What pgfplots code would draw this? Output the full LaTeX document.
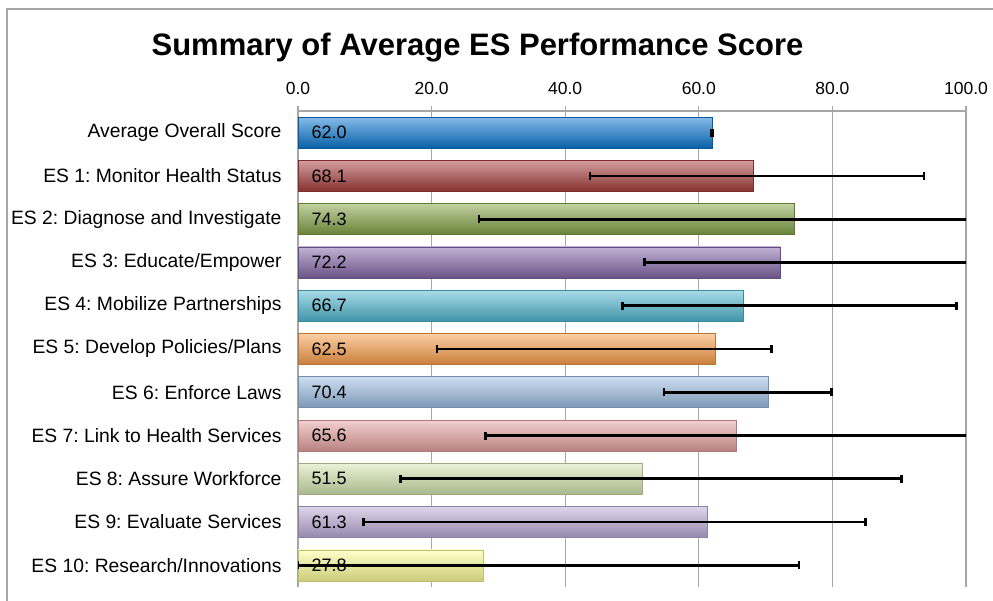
\documentclass[border=0pt]{standalone}
\usepackage{fontspec}
\setmainfont{Liberation Sans}
\usepackage{pgfplots}
\pgfplotsset{compat=1.18}
\usepackage{pgfplotstable}
\frenchspacing
\definecolor{c0}{HTML}{0A78D0}
\definecolor{c1}{HTML}{A63E3C}
\definecolor{c2}{HTML}{82A244}
\definecolor{c3}{HTML}{8466A8}
\definecolor{c4}{HTML}{50B8D2}
\definecolor{c5}{HTML}{FA9E48}
\definecolor{c6}{HTML}{9CBDE3}
\definecolor{c7}{HTML}{E6A2A1}
\definecolor{c8}{HTML}{D4E6AE}
\definecolor{c9}{HTML}{BCAAD6}
\definecolor{c10}{HTML}{FFFF99}
\definecolor{gridgray}{HTML}{A6A6A6}
\pgfplotstableread{
x y lab
0.01 10 62.0
0.01 9 68.1
0.01 8 74.3
0.01 7 72.2
0.01 6 66.7
0.01 5 62.5
0.01 4 70.4
0.01 3 65.6
0.01 2 51.5
0.01 1 61.3
0.01 0 27.8
}\labeltab
\pgfplotsset{
  mybar/.style={xbar, bar width=31pt, bar shift=0pt,
    draw=#1!75!black, line width=0.6pt,
    top color=#1!50!white, middle color=#1, bottom color=#1!80!black,
    error bars/.cd, x dir=both, x explicit,
    error bar style={line width=2.8pt, black},
    error mark options={rotate=90, line width=2.8pt, black, mark size=4pt}}
}
\begin{document}
\begin{tikzpicture}
\useasboundingbox (0,0) rectangle (993pt,600pt);
\fill[white] (0,0) rectangle (993pt,600pt);
\draw[gridgray, line width=1.5pt] (7pt,-10pt) rectangle (1010pt,591pt);
\node[font=\bfseries\fontsize{31}{36}\selectfont] at (477.5pt,552pt) {Summary of Average ES Performance Score};
\begin{axis}[
  at={(298pt,13pt)}, anchor=south west,
  scale only axis, width=668pt, height=476pt,
  xmin=0, xmax=100, ymin=-0.5, ymax=10.5,
  separate axis lines,
  axis x line*=top, axis y line*=left,
  axis line style={draw=gridgray, line width=1.2pt, -},
  xtick={0,20,...,100},
  ytick={0,...,10},
  yticklabels={ES 10: Research/Innovations, ES 9: Evaluate Services, ES 8: Assure Workforce, ES 7: Link to Health Services, ES 6: Enforce Laws, ES 5: Develop Policies/Plans, ES 4: Mobilize Partnerships, ES 3: Educate/Empower, ES 2: Diagnose and Investigate, ES 1: Monitor Health Status, Average Overall Score},
  xmajorgrids, grid style={gridgray, line width=1.2pt},
  tick align=outside, major tick length=5pt,
  x tick style={gridgray, line width=1.2pt},
  y tick style={draw=none},
  xticklabel style={font=\fontsize{17.5}{20}\selectfont, yshift=8pt,
    /pgf/number format/fixed, /pgf/number format/fixed zerofill,
    /pgf/number format/precision=1, /pgf/number format/assume math mode=true},
  yticklabel style={font=\fontsize{19.3}{22}\selectfont, xshift=-8pt},
]
\addplot[mybar=c0] coordinates {(62.0,10) += (0.05,0) -= (0.05,0)};
\addplot[mybar=c1] coordinates {(68.1,9) += (25.6,0) -= (24.4,0)};
\addplot[mybar=c2] coordinates {(74.3,8) += (26.2,0) -= (47.2,0)};
\addplot[mybar=c3] coordinates {(72.2,7) += (28.3,0) -= (20.3,0)};
\addplot[mybar=c4] coordinates {(66.7,6) += (31.9,0) -= (18.1,0)};
\addplot[mybar=c5] coordinates {(62.5,5) += (8.4,0) -= (41.7,0)};
\addplot[mybar=c6] coordinates {(70.4,4) += (9.5,0) -= (15.6,0)};
\addplot[mybar=c7] coordinates {(65.6,3) += (34.9,0) -= (37.5,0)};
\addplot[mybar=c8] coordinates {(51.5,2) += (38.8,0) -= (36.2,0)};
\addplot[mybar=c9] coordinates {(61.3,1) += (23.6,0) -= (51.5,0)};
\addplot[mybar=c10] coordinates {(27.8,0) += (47.2,0) -= (27.8,0)};
\addplot[draw=none, mark=none, nodes near coords, point meta=explicit symbolic,
  every node near coord/.append style={anchor=west, xshift=10pt, yshift=0pt, font=\fontsize{18}{21}\selectfont, text=black}]
  table[x=x, y=y, meta=lab] {\labeltab};
\end{axis}
\end{tikzpicture}
\end{document}
